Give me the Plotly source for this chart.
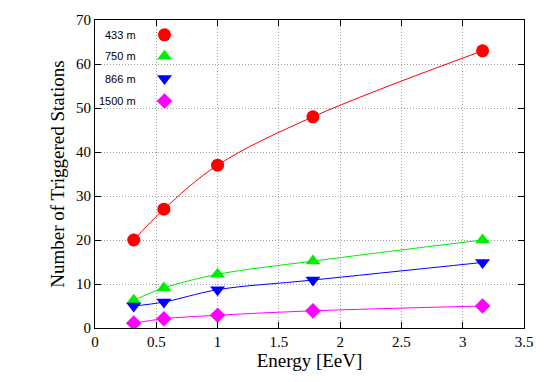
import plotly.graph_objects as go

energy = [0.316, 0.562, 1.0, 1.778, 3.162]
n_433 = [20, 27, 37, 48, 63]
n_750 = [6.3, 9.1, 12.2, 15.2, 20.0]
n_866 = [5.0, 5.9, 8.7, 10.9, 14.9]
n_1500 = [1.1, 2.1, 2.9, 3.9, 5.0]

labels = ["433 m", "750 m", "866 m", "1500 m"]
series = [n_433, n_750, n_866, n_1500]
colors = ["#ff0000", "#00ee00", "#0000ff", "#ff00ff"]
symbols = ["circle", "triangle-up", "triangle-down", "diamond"]
sizes = [13, 13, 13, 12]

fig = go.Figure()
for lab, ys, c, s, sz in zip(labels, series, colors, symbols, sizes):
    fig.add_trace(go.Scatter(x=energy, y=ys, mode="lines", line=dict(color=c, width=1, shape="spline", smoothing=1.0),
                             showlegend=False, hoverinfo="skip"))
    fig.add_trace(go.Scatter(x=energy, y=ys, mode="markers", marker=dict(color=c, symbol=s, size=sz, line=dict(width=0)),
                             name=lab, showlegend=False))

# custom legend (text left, symbol right) on an overlay axis in paper-like units
leg_y = [0.952, 0.882, 0.810, 0.737]
for lab, yy, c, s, sz in zip(labels, leg_y, colors, symbols, sizes):
    fig.add_trace(go.Scatter(x=[0.162], y=[yy], xaxis="x2", yaxis="y2", mode="markers",
                             marker=dict(color=c, symbol=s, size=sz, line=dict(width=0)),
                             showlegend=False, hoverinfo="skip"))
    fig.add_annotation(x=0.1, y=yy, xref="paper", yref="paper", text=lab, showarrow=False,
                       xanchor="right", yanchor="middle",
                       font=dict(family="Liberation Sans, Arial, sans-serif", size=11, color="black"))

serif = "Liberation Serif, Times New Roman, serif"
axis_common = dict(showline=True, linecolor="black", linewidth=1, mirror="ticks", ticks="inside",
                   ticklen=6, tickcolor="black", showgrid=True, gridcolor="#a0a0a0", griddash="1px,2px",
                   gridwidth=1, zeroline=False, tickfont=dict(family=serif, size=15, color="black"))

fig.update_layout(
    width=545, height=382,
    margin=dict(l=95, r=18, t=13, b=54),
    paper_bgcolor="white", plot_bgcolor="white",
    xaxis=dict(range=[0, 3.5], dtick=0.5, title=dict(text="Energy [EeV]", font=dict(family=serif, size=19, color="black"), standoff=1), **axis_common),
    yaxis=dict(range=[0, 70], dtick=10, title=dict(text="Number of Triggered Stations", font=dict(family=serif, size=19, color="black"), standoff=6), **axis_common),
    xaxis2=dict(overlaying="x", range=[0, 1], visible=False, fixedrange=True),
    yaxis2=dict(overlaying="y", range=[0, 1], visible=False, fixedrange=True),
)

fig.write_html("out.html", config={"displayModeBar": False},
               post_script="document.body.style.margin='0';document.body.style.padding='0';")
